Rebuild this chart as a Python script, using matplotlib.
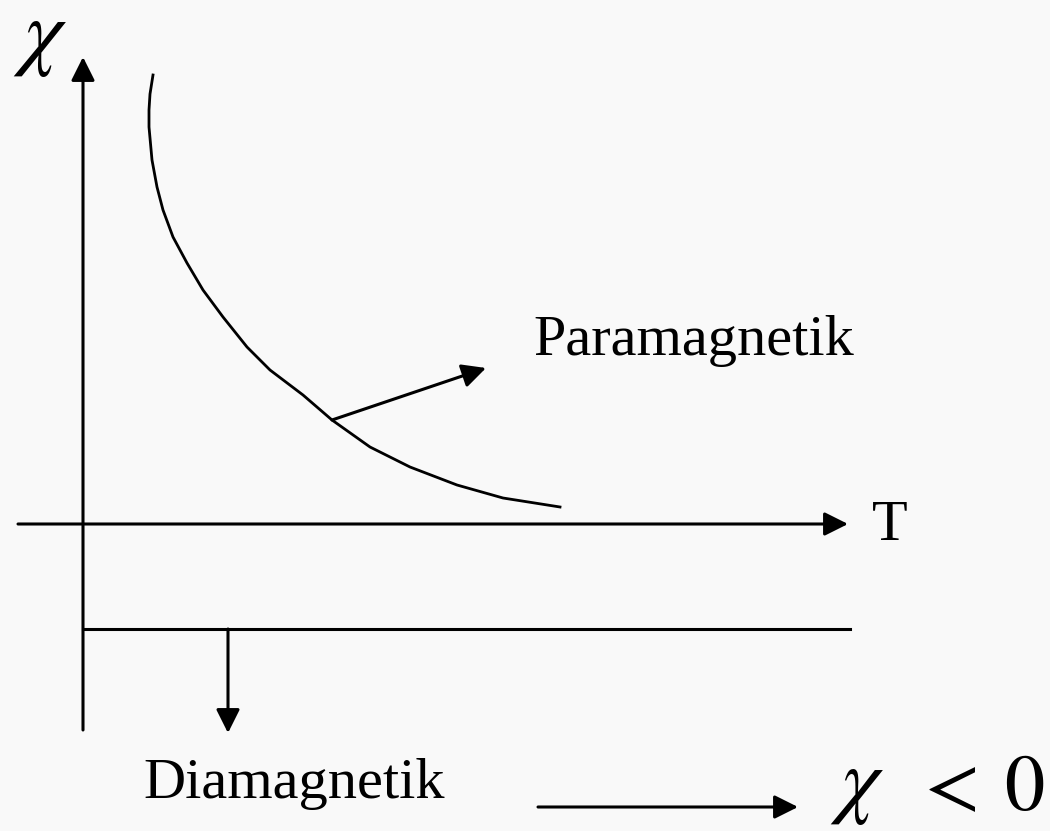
import numpy as np
import matplotlib
matplotlib.use("Agg")
import matplotlib.pyplot as plt

plt.rcParams['font.family'] = ['Liberation Serif', 'DejaVu Serif']
plt.rcParams['mathtext.fontset'] = 'stix'

# paramagnetic curve (T, chi), origin where the axes cross
para_T = [70, 67, 66, 66, 69, 74, 80, 90, 104, 120, 140, 164, 187, 220, 249, 287, 327, 374, 420, 477]
para_chi = [449, 430, 414, 397, 364, 337, 314, 287, 261, 234, 207, 177, 154, 129, 104, 77, 57, 39, 26, 17]

# diamagnetic level (constant, negative) and its extent
dia_chi = -105
dia_T = [0, 767]

# axis extents
T_axis = [-65, 765]
chi_axis = [-206, 467]

label_para = "Paramagnetik"
label_dia = "Diamagnetik"

fig = plt.figure(figsize=(10.5, 8.31), dpi=100)
fig.patch.set_facecolor('#f9f9f9')
ax = fig.add_axes([0, 0, 1, 1])
ax.set_facecolor('#f9f9f9')
ax.set_xlim(-83, 967)
ax.set_ylim(-307, 524)
ax.axis('off')

arrow = dict(arrowstyle='-|>', mutation_scale=36, lw=2.2, color='black',
             shrinkA=0, shrinkB=0)

# axes with arrow heads
ax.annotate('', xy=(T_axis[1], 0), xytext=(T_axis[0], 0), arrowprops=arrow)
ax.annotate('', xy=(0, chi_axis[1]), xytext=(0, chi_axis[0]), arrowprops=arrow)

# curve and diamagnetic line
ax.plot(para_T, para_chi, color='black', lw=2.0, solid_joinstyle='round')
ax.plot(dia_T, [dia_chi, dia_chi], color='black', lw=2.2)

# pointer arrows
ax.annotate('', xy=(403, 156), xytext=(para_T[14], para_chi[14]), arrowprops=arrow)
ax.annotate('', xy=(145, -209), xytext=(145, dia_chi), arrowprops=arrow)
ax.annotate('', xy=(715, -283), xytext=(455, -283), arrowprops=arrow)

# labels
ax.text(450, 169, label_para, fontsize=42, ha='left', va='baseline')
ax.text(60, -274, label_dia, fontsize=42, ha='left', va='baseline')
ax.text(789, -16, "T", fontsize=42, ha='left', va='baseline')
ax.text(-43, 465, r"$\chi$", fontsize=62, ha='center', va='baseline')
ax.text(774, -283, r"$\chi$", fontsize=62, ha='center', va='baseline')
ax.text(862, -286, r"$<$", fontsize=58, ha='center', va='baseline')
ax.text(941, -286, r"$0$", fontsize=58, ha='center', va='baseline')

fig.savefig('out.png', dpi=100, facecolor=fig.get_facecolor())
